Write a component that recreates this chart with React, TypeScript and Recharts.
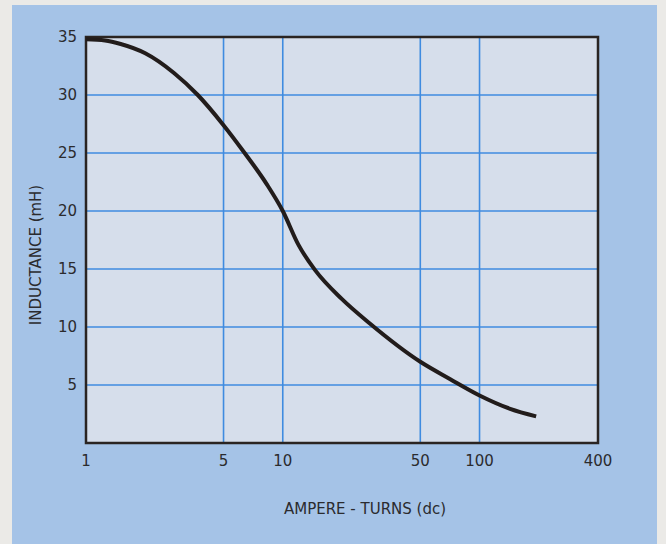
import {
  LineChart,
  Line,
  XAxis,
  YAxis,
  CartesianGrid,
  ReferenceArea,
} from "recharts";

// ampere-turns (dc), log axis
const ampereTurns = [1, 1.25, 1.5, 2, 2.8, 3.7, 5, 6.4, 8.3, 10, 12, 14.6, 20, 27.7, 50, 71, 100, 143, 194];
// inductance in mH
const inductance = [34.8, 34.7, 34.4, 33.6, 31.9, 30, 27.4, 25.0, 22.3, 20, 17.1, 14.9, 12.4, 10.3, 7.0, 5.5, 4.1, 2.95, 2.3];

const xTicks = [1, 5, 10, 50, 100, 400];
const yTicks = [5, 10, 15, 20, 25, 30, 35];

const data = ampereTurns.map((x, i) => ({ x, y: inductance[i] }));

const FONT = "'DejaVu Sans', sans-serif";
const TEXT = "#2b2b2e";

export default function App() {
  return (
    <div
      style={{
        position: "absolute",
        left: 0,
        top: 0,
        width: 666,
        height: 544,
        background: "#ebeae7",
        overflow: "hidden",
      }}
    >
      {/* blue panel */}
      <div
        style={{
          position: "absolute",
          left: 12,
          top: 5,
          width: 645,
          height: 539,
          background: "#a5c3e7",
        }}
      />
      <div style={{ position: "absolute", left: 0, top: 0 }}>
        <LineChart
          width={666}
          height={544}
          data={data}
          margin={{ top: 37, right: 68, bottom: 71, left: 46 }}
        >
          <CartesianGrid
            fill="#d6deeb"
            stroke="#3f8be0"
            strokeWidth={1.6}
            horizontalValues={yTicks}
            verticalValues={xTicks}
          />
          <XAxis
            dataKey="x"
            type="number"
            scale="log"
            domain={[1, 400]}
            ticks={xTicks}
            allowDataOverflow
            height={30}
            axisLine={false}
            tickLine={false}
            tickSize={0}
            tickMargin={12}
            tick={{ fill: TEXT, fontSize: 15, fontFamily: FONT }}
            label={{
              content: () => (
                <text
                  x={365}
                  y={509}
                  textAnchor="middle"
                  dominantBaseline="central"
                  fill={TEXT}
                  fontSize={15}
                  fontFamily={FONT}
                >
                  AMPERE - TURNS (dc)
                </text>
              ),
            }}
          />
          <YAxis
            type="number"
            domain={[0, 35]}
            ticks={yTicks}
            width={40}
            axisLine={false}
            tickLine={false}
            tickSize={0}
            tickMargin={9}
            tick={{ fill: TEXT, fontSize: 15, fontFamily: FONT }}
            label={{
              content: () => (
                <text
                  x={36}
                  y={255}
                  transform="rotate(-90 36 255)"
                  textAnchor="middle"
                  dominantBaseline="central"
                  fill={TEXT}
                  fontSize={15}
                  fontFamily={FONT}
                >
                  INDUCTANCE (mH)
                </text>
              ),
            }}
          />
          <ReferenceArea
            x1={1}
            x2={400}
            y1={0}
            y2={35}
            fill="none"
            stroke="#2a2422"
            strokeWidth={2.5}
            ifOverflow="visible"
          />
          <Line
            type="monotone"
            dataKey="y"
            stroke="#221c1b"
            strokeWidth={4}
            dot={false}
            isAnimationActive={false}
          />
        </LineChart>
      </div>
    </div>
  );
}
